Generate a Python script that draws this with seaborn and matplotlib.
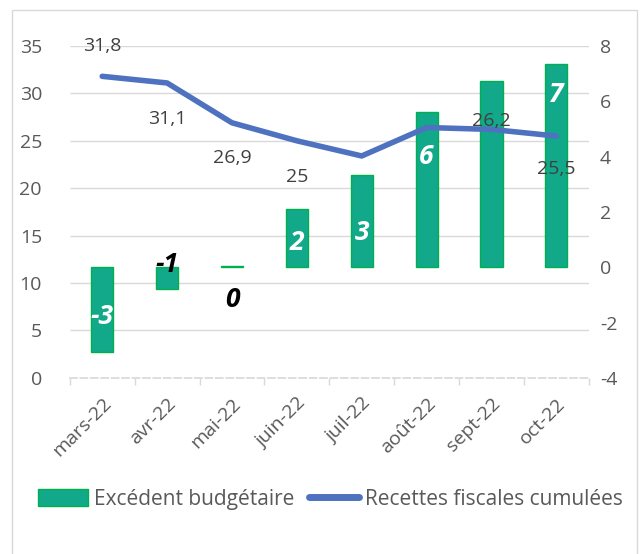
import numpy as np
import pandas as pd
import matplotlib
matplotlib.use("Agg")
import matplotlib.pyplot as plt
from matplotlib.patches import Patch, Rectangle
from matplotlib.lines import Line2D
import seaborn as sns

# data
months = ["mars-22", "avr-22", "mai-22", "juin-22", "juil-22", "août-22", "sept-22", "oct-22"]
excedent = [-3.05, -0.8, 0.05, 2.1, 3.35, 5.6, 6.75, 7.35]          # right axis
recettes = [31.8, 31.1, 26.9, 25.0, 23.4, 26.4, 26.2, 25.5]         # left axis
excedent_labels = ["-3", "-1", "0", "2", "3", "6", "", "7"]
recettes_labels = ["31,8", "31,1", "26,9", "25", "", "", "26,2", "25,5"]

# label placement (style only)
bar_label_y = [-1.77, 0.1, -1.18, 0.88, 1.24, 3.99, 0, 6.23]
bar_label_col = ["white", "black", "black", "white", "white", "white", "white", "white"]
line_label_dy = [22, -26, -25, -26, 0, 0, 6, -24]

GREEN = "#12A98A"
EDGE = "#00B050"
BLUE = "#4F72C0"
GRID = "#D9D9D9"
TXT = "#595959"

sns.set_theme(style="white")
plt.rcParams["font.family"] = ["Open Sans", "DejaVu Sans"]
plt.rcParams["axes.unicode_minus"] = False

df = pd.DataFrame({"mois": months, "excedent": excedent,
                   "recettes": recettes, "pos": np.arange(len(months))})

fig = plt.figure(figsize=(6.4, 5.54), dpi=100)
ax_bar = fig.add_axes([0.109, 0.318, 0.811, 0.599])
ax_line = ax_bar.twinx()

# bars (right scale)
ax_bar.set_ylim(-4, 8)
grid_vals = -4 + np.arange(5, 40, 5) * 12 / 35
ax_bar.hlines(grid_vals, -0.5, len(months) - 0.5, color=GRID, lw=1, zorder=0)
sns.barplot(data=df, x="mois", y="excedent", ax=ax_bar, color=GREEN, saturation=1,
            width=0.34, edgecolor=EDGE, linewidth=1, zorder=2)
ax_bar.set_xlim(-0.5, len(months) - 0.5)
ax_bar.set_xlabel("")
ax_bar.set_ylabel("")
ax_bar.yaxis.tick_right()
ax_bar.set_yticks(np.arange(-4, 9, 2))
ax_bar.tick_params(axis="y", length=0, pad=8, labelsize=14, labelcolor=TXT)

for i, lab in enumerate(excedent_labels):
    if lab:
        ax_bar.text(i, bar_label_y[i], lab, ha="center", va="center", fontsize=19,
                    fontweight="bold", fontstyle="italic", color=bar_label_col[i], zorder=5)

# x axis
ax_bar.set_xticks(np.arange(len(months)))
ax_bar.set_xticklabels(months, rotation=45, ha="right", rotation_mode="anchor")
ax_bar.set_xticks(np.arange(-0.5, len(months)), minor=True)
ax_bar.tick_params(axis="x", which="major", length=0, pad=12, labelsize=14, labelcolor=TXT)
ax_bar.tick_params(axis="x", which="minor", length=5, color=GRID, width=1, bottom=True)
for s in ["top", "left", "right"]:
    ax_bar.spines[s].set_visible(False)
ax_bar.spines["bottom"].set_color(GRID)
ax_bar.spines["bottom"].set_linestyle((0, (4, 2)))

# line (left scale)
sns.lineplot(data=df, x="pos", y="recettes", ax=ax_line, color=BLUE, lw=4, zorder=3)
ax_line.set_ylim(0, 35)
ax_line.set_xlim(-0.5, len(months) - 0.5)
ax_line.yaxis.tick_left()
ax_line.set_yticks(np.arange(0, 36, 5))
ax_line.tick_params(axis="y", length=0, pad=20, labelsize=14, labelcolor=TXT)
ax_line.set_xlabel("")
ax_line.set_ylabel("")
for s in ax_line.spines.values():
    s.set_visible(False)

for i, lab in enumerate(recettes_labels):
    if lab:
        ax_line.annotate(lab, (i, recettes[i]), xytext=(0, line_label_dy[i]),
                         textcoords="offset points", ha="center", va="center",
                         fontsize=14, color="#404040")

# legend
handles = [Patch(facecolor=GREEN, edgecolor=EDGE, label="Excédent budgétaire"),
           Line2D([0], [0], color=BLUE, lw=5, label="Recettes fiscales cumulées")]
fig.legend(handles=handles, loc="center", bbox_to_anchor=(0.516, 0.099), ncol=2,
           frameon=False, fontsize=15, handlelength=2.4, handleheight=0.85,
           handletextpad=0.3, columnspacing=0.7, labelcolor=TXT)

# chart border
fig.add_artist(Rectangle((12 / 640, -0.02), 625 / 640, 0.982 + 0.02,
                         transform=fig.transFigure, fill=False, edgecolor=GRID, lw=1))

fig.savefig("out.png", dpi=100)
